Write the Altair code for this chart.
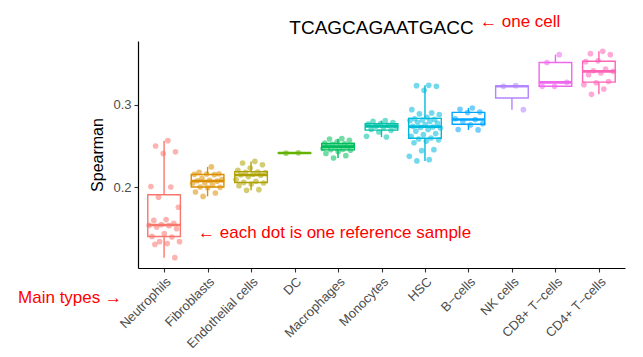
import json
import altair as alt
import pandas as pd

# ---- data ----
title_text = "TCAGCAGAATGACC"
types = ["Neutrophils", "Fibroblasts", "Endothelial cells", "DC", "Macrophages",
         "Monocytes", "HSC", "B\u2212cells", "NK cells", "CD8+ T\u2212cells", "CD4+ T\u2212cells"]
colors = ["#F8766D", "#DB8E00", "#AEA200", "#64B200", "#00BD5C", "#00C1A7",
          "#00BADE", "#00A6FF", "#B385FF", "#EF67EB", "#FF63B6"]

neutrophils = [0.2565, 0.250, 0.243, 0.241, 0.201, 0.2005, 0.188, 0.176, 0.161, 0.160, 0.1565, 0.155,
               0.154, 0.1537, 0.152, 0.150, 0.144, 0.1407, 0.140, 0.1343, 0.1343, 0.132, 0.131, 0.115]
fibroblasts = [0.2247, 0.2181, 0.2165, 0.2162, 0.2158, 0.2154, 0.2110, 0.2093, 0.2085, 0.2080,
               0.2075, 0.2053, 0.2050, 0.2030, 0.2005, 0.2000, 0.1995, 0.1944, 0.1932, 0.1891]
endothelial = [0.2314, 0.2295, 0.2274, 0.2234, 0.2206, 0.2185, 0.2181, 0.2178, 0.2160, 0.2152,
               0.2148, 0.2130, 0.2093, 0.2073, 0.2060, 0.2053, 0.2040, 0.2021, 0.1972, 0.1964]
dc = [0.2418, 0.2414]
macrophages = [0.2589, 0.2585, 0.2570, 0.2550, 0.2535, 0.2528, 0.2520, 0.2510, 0.2500, 0.2496,
               0.2490, 0.2480, 0.2470, 0.2460, 0.2455, 0.2450, 0.2435, 0.2410, 0.2383, 0.2355]
monocytes = [0.2807, 0.2798, 0.2785, 0.2770, 0.2765, 0.2750, 0.2740, 0.2735, 0.2720, 0.2700,
             0.2690, 0.2670, 0.2617, 0.2609]
hsc = [0.3234, 0.3230, 0.3222, 0.3173, 0.2940, 0.2900, 0.2888, 0.2879, 0.2847, 0.2830, 0.2822,
       0.2815, 0.2810, 0.2798, 0.2786, 0.2775, 0.2760, 0.2738, 0.2730, 0.2725, 0.2718, 0.2700,
       0.2680, 0.2650, 0.2637, 0.2617, 0.2597, 0.2585, 0.2575, 0.2560, 0.2540, 0.2456, 0.2444,
       0.2375, 0.2335, 0.2320]
bcells = [0.2960, 0.2945, 0.2910, 0.2905, 0.2830, 0.2820, 0.2800, 0.2770, 0.2755, 0.2700, 0.2695]
nkcells = [0.3230, 0.3222, 0.2940]
cd8 = [0.3605, 0.3510, 0.3270, 0.3222, 0.3222]
cd4 = [0.3645, 0.3617, 0.3605, 0.3530, 0.3520, 0.3431, 0.3410, 0.3403, 0.3383, 0.3363,
       0.3280, 0.3265, 0.3242, 0.3190, 0.3125]

series = [neutrophils, fibroblasts, endothelial, dc, macrophages, monocytes,
          hsc, bcells, nkcells, cd8, cd4]

rows = []
for i, (t, vals) in enumerate(zip(types, series)):
    for k, v in enumerate(vals):
        # deterministic spread of the dots inside each category (ggplot-like jitter)
        jit = (((k + 1) * 0.6180339887) % 1.0 - 0.5) * 0.74
        rows.append({"type": t, "idx": i, "value": v, "xj": i + jit})
df = pd.DataFrame(rows)

FONT = "Liberation Sans"
label_expr = "[" + ",".join(json.dumps(t) for t in types) + "][datum.value]"

xscale = alt.Scale(domain=[-0.6, len(types) - 0.4], nice=False, zero=False)
yscale = alt.Scale(domain=[0.1025, 0.377], nice=False, zero=False)
xaxis = alt.Axis(values=list(range(len(types))), labelExpr=label_expr, title=None,
                 grid=False, labelAngle=-45, labelAlign="right", labelBaseline="top",
                 labelOverlap=False, labelBound=False)
yaxis = alt.Axis(values=[0.2, 0.3], format=".1f", title="Spearman", grid=False,
                 titleFontSize=16, titleFontWeight="normal", titleColor="black",
                 titlePadding=7)
col = alt.Color("type:N", scale=alt.Scale(domain=types, range=colors), legend=None)
strk = alt.Stroke("type:N", scale=alt.Scale(domain=types, range=colors), legend=None)

base = alt.Chart(df)
stats = base.transform_aggregate(
    q1="q1(value)", q3="q3(value)", med="median(value)", lo="min(value)", hi="max(value)",
    groupby=["type", "idx"]
).transform_calculate(xl="datum.idx - 0.375", xr="datum.idx + 0.375")

whisk_lo = stats.mark_rule(strokeWidth=1.4).encode(
    x=alt.X("idx:Q", scale=xscale, axis=xaxis),
    y=alt.Y("lo:Q", scale=yscale, axis=yaxis), y2="q1:Q", color=col)
whisk_hi = stats.mark_rule(strokeWidth=1.4).encode(
    x=alt.X("idx:Q", scale=xscale, axis=xaxis),
    y=alt.Y("q3:Q", scale=yscale, axis=yaxis), y2="hi:Q", color=col)
box = stats.mark_rect(strokeWidth=1.4, fill="white").encode(
    x=alt.X("xl:Q", scale=xscale, axis=xaxis), x2="xr:Q",
    y=alt.Y("q1:Q", scale=yscale, axis=yaxis), y2="q3:Q", stroke=strk)
median = stats.mark_rule(strokeWidth=2.6).encode(
    x=alt.X("xl:Q", scale=xscale, axis=xaxis), x2="xr:Q",
    y=alt.Y("med:Q", scale=yscale, axis=yaxis), color=col)
points = base.mark_circle(size=32, opacity=0.55).encode(
    x=alt.X("xj:Q", scale=xscale, axis=xaxis),
    y=alt.Y("value:Q", scale=yscale, axis=yaxis), color=col)

red = "#FF0000"
title_mark = alt.Chart(pd.DataFrame({"label": [title_text]})).mark_text(
    align="center", baseline="alphabetic", fontSize=19, color="black", font=FONT
).encode(text="label:N", x=alt.value(243.5), y=alt.value(-7))
note_cell = alt.Chart(pd.DataFrame({"label": ["\u2190 one cell"]})).mark_text(
    align="left", baseline="middle", fontSize=17, color=red, font=FONT
).encode(text="label:N", x=alt.value(342), y=alt.value(-19))
note_dot = alt.Chart(pd.DataFrame({"label": ["\u2190 each dot is one reference sample"]})).mark_text(
    align="left", baseline="middle", fontSize=17, color=red, font=FONT
).encode(text="label:N", x=alt.value(60), y=alt.value(192))
note_main = alt.Chart(pd.DataFrame({"label": ["Main types \u2192"]})).mark_text(
    align="right", baseline="middle", fontSize=17, color=red, font=FONT
).encode(text="label:N", x=alt.value(-16), y=alt.value(257))

chart = alt.layer(whisk_lo, whisk_hi, box, median, points,
                  title_mark, note_cell, note_dot, note_main).properties(
    width=487, height=227,
    padding={"left": 138, "top": 41, "right": 18, "bottom": 89},
    autosize=alt.AutoSizeParams(type="none"),
).configure(font=FONT, background="white").configure_view(stroke=None).configure_axis(
    domainColor="black", domainWidth=1.2, tickColor="#333333", tickWidth=1.1, tickSize=4,
    labelFont=FONT, labelFontSize=13, labelColor="#4D4D4D", labelPadding=3, titleFont=FONT,
)

chart.save("out.html", embed_options={"renderer": "svg", "actions": False})
